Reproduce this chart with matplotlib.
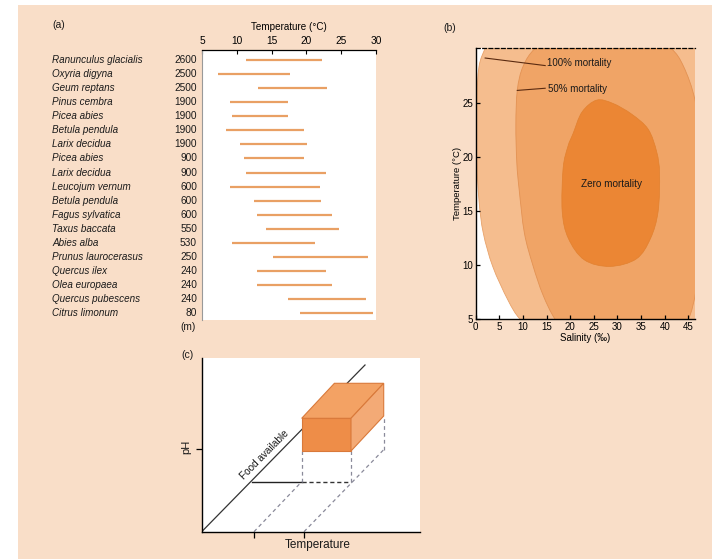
import numpy as np
import matplotlib
matplotlib.use("Agg")
import matplotlib.pyplot as plt
import matplotlib.transforms as mtransforms
from matplotlib.path import Path
from matplotlib.patches import PathPatch, Polygon, Rectangle

plt.rcParams['font.family'] = ['Liberation Sans', 'DejaVu Sans']

# ---------------- data: panel (a) ----------------
species = ["Ranunculus glacialis", "Oxyria digyna", "Geum reptans", "Pinus cembra",
           "Picea abies", "Betula pendula", "Larix decidua", "Picea abies",
           "Larix decidua", "Leucojum vernum", "Betula pendula", "Fagus sylvatica",
           "Taxus baccata", "Abies alba", "Prunus laurocerasus", "Quercus ilex",
           "Olea europaea", "Quercus pubescens", "Citrus limonum"]
altitude = [2600, 2500, 2500, 1900, 1900, 1900, 1900, 900, 900, 600,
            600, 600, 550, 530, 250, 240, 240, 240, 80]
t_low = [11.3, 7.3, 13.1, 9.0, 9.3, 8.5, 10.4, 11.0, 11.3, 9.0,
         12.4, 12.9, 14.2, 9.3, 15.2, 12.9, 12.9, 17.3, 19.1]
t_high = [22.2, 17.7, 23.0, 17.4, 17.4, 19.7, 20.1, 19.7, 22.8, 21.9,
          22.1, 23.7, 24.7, 21.2, 28.8, 22.8, 23.7, 28.6, 29.6]
temp_ticks = [5, 10, 15, 20, 25, 30]

# ---------------- data: panel (b) ----------------
sal_ticks = [0, 5, 10, 15, 20, 25, 30, 35, 40, 45]
tb_ticks = [5, 10, 15, 20, 25]
# boundary of the 100% mortality region (salinity, temperature)
b100_sal = [3.0, 2.0, 0.7, 0.2, 0.2, 0.7, 1.6, 3.6, 6.8, 9.4, 14.0, 60, 60, 20]
b100_tmp = [31.0, 30.1, 28.4, 25.0, 20.0, 16.0, 13.0, 9.9, 6.8, 5.0, 3.2, 2.0, 33.0, 33.0]
# boundary of the 50% mortality region
b50_sal = [12.6, 10.0, 8.8, 8.5, 8.7, 9.2, 10.3, 12.1, 14.2, 16.8, 20.5,
           42.0, 45.0, 46.6, 47.6, 47.6, 46.4, 44.0, 41.3, 36.0, 18.0]
b50_tmp = [30.1, 28.4, 26.2, 23.0, 19.5, 17.0, 13.0, 10.0, 7.3, 5.0, 3.0,
           3.3, 5.0, 7.7, 12.0, 21.0, 25.3, 28.4, 30.1, 31.5, 31.7]
# boundary of the zero mortality region
b0_sal = [25.6, 29.0, 33.0, 36.5, 38.3, 38.9, 38.6, 37.0, 34.0, 28.4,
          23.0, 19.6, 18.3, 18.5, 19.5, 20.6, 22.5]
b0_tmp = [25.3, 25.0, 24.0, 22.6, 20.5, 18.5, 15.0, 12.5, 10.6, 9.9,
          10.5, 12.5, 15.0, 19.0, 21.0, 22.2, 24.2]

# ---------------- data: panel (c) (schematic units) ----------------
food_line = ([1.0, 163.3], [1.0, 166.7])
box_front = (100.0, 80.7, 49.3, 32.7)    # x, y, width, height
box_depth = (32.7, 35.0)
floor_y = 50.0
food_x_at_floor = 50.0
c_xticks = [52.3, 102.3]
c_ytick = [82.4]

BG = '#f9dec8'
W, H = 712, 559


def px_axes(fig, x0, y0, x1, y1):
    return fig.add_axes([x0 / W, 1 - y1 / H, (x1 - x0) / W, (y1 - y0) / H])


def smooth_closed(xs, ys):
    # closed Catmull-Rom curve through the boundary points, as cubic Beziers
    pts = np.column_stack([xs, ys]).astype(float)
    n = len(pts)
    verts = [pts[0]]
    codes = [Path.MOVETO]
    for i in range(n):
        p0, p1, p2, p3 = pts[i - 1], pts[i], pts[(i + 1) % n], pts[(i + 2) % n]
        verts += [p1 + (p2 - p0) / 6, p2 - (p3 - p1) / 6, p2]
        codes += [Path.CURVE4] * 3
    verts.append(pts[0])
    codes.append(Path.CLOSEPOLY)
    return Path(verts, codes)


fig = plt.figure(figsize=(W / 100, H / 100), dpi=100)
fig.patch.set_facecolor('white')
fig.patches.append(Rectangle((18 / W, 0), 1, 1 - 5 / H, transform=fig.transFigure,
                             facecolor=BG, edgecolor='none', zorder=-10))

txt = dict(color='#1a1a1a')

# ================= panel (a) =================
axa = px_axes(fig, 202, 50, 376, 320)
rows = np.arange(len(species))
axa.hlines(rows, t_low, t_high, color='#e9a064', lw=1.6)
axa.set_xlim(5, 30)
axa.set_ylim(18.48, -0.71)
axa.xaxis.tick_top()
axa.set_xticks(temp_ticks)
axa.tick_params(axis='x', direction='in', length=3, width=0.8, labelsize=7.3, pad=3)
axa.set_yticks([])
for s in ['right', 'bottom']:
    axa.spines[s].set_visible(False)
axa.spines['left'].set_color('#999999')
axa.spines['top'].set_linewidth(0.9)
axa.set_xlabel('Temperature (°C)', fontsize=7.1, labelpad=4)
axa.xaxis.set_label_position('top')

trans_a = mtransforms.blended_transform_factory(fig.transFigure, axa.transData)
for i, (name, alt) in enumerate(zip(species, altitude)):
    axa.text(52 / W, i, name, transform=trans_a, fontsize=7.1, style='italic',
             ha='left', va='center', **txt)
    axa.text(197 / W, i, str(alt), transform=trans_a, fontsize=7.3,
             ha='right', va='center', **txt)
fig.text(196 / W, 1 - 327 / H, '(m)', fontsize=7.3, ha='right', va='center', **txt)
fig.text(52 / W, 1 - 25 / H, '(a)', fontsize=7.5, ha='left', va='center', **txt)

# ================= panel (b) =================
axb = px_axes(fig, 475.7, 48.3, 695, 319.3)
axb.set_facecolor('white')
axb.set_xlim(0, 46.4)
axb.set_ylim(5, 30.1)
p100 = PathPatch(smooth_closed(b100_sal, b100_tmp), facecolor='#f5bd8e',
                 edgecolor='#e8a26a', lw=0.6)
axb.add_patch(p100)
p50 = PathPatch(smooth_closed(b50_sal, b50_tmp), facecolor='#f0a466',
                edgecolor='#e39253', lw=0.6)
axb.add_patch(p50)
p0 = PathPatch(smooth_closed(b0_sal, b0_tmp), facecolor='#eb8634',
               edgecolor='#e2812f', lw=0.5)
axb.add_patch(p0)

axb.plot([2.0, 14.7], [29.2, 28.5], color='#5a2a10', lw=0.8)
axb.plot([8.8, 14.7], [26.2, 26.4], color='#5a2a10', lw=0.8)
axb.text(15.0, 28.7, '100% mortality', fontsize=7.0, ha='left', va='center', **txt)
axb.text(15.2, 26.35, '50% mortality', fontsize=7.0, ha='left', va='center', **txt)
axb.text(28.8, 17.5, 'Zero mortality', fontsize=7.2, ha='center', va='center', **txt)

axb.set_xticks(sal_ticks)
axb.set_yticks(tb_ticks)
axb.tick_params(direction='in', length=3, width=0.9, labelsize=7.0, pad=2)
axb.spines['right'].set_visible(False)
axb.spines['top'].set_linestyle((0, (3, 2)))
axb.spines['top'].set_linewidth(0.9)
axb.spines['left'].set_linewidth(1.0)
axb.spines['bottom'].set_linewidth(1.0)
axb.set_xlabel('Salinity (‰)', fontsize=7.0, labelpad=1)
axb.set_ylabel('Temperature (°C)', fontsize=6.8, labelpad=0)
fig.text(443 / W, 1 - 28 / H, '(b)', fontsize=7.5, ha='left', va='center', **txt)

# ================= panel (c) =================
axc = px_axes(fig, 201.7, 358.3, 420, 531.7)
axc.set_facecolor('white')
axc.set_xlim(0, 218.3)
axc.set_ylim(0, 173.4)
for s in ['right', 'top']:
    axc.spines[s].set_visible(False)
axc.spines['left'].set_linewidth(1.0)
axc.spines['bottom'].set_linewidth(1.0)
axc.set_xticks(c_xticks)
axc.set_yticks(c_ytick)
axc.set_xticklabels([])
axc.set_yticklabels([])
axc.tick_params(direction='out', length=4, width=0.9)

dash = dict(color='#8a8a9a', lw=0.9, ls=(0, (3, 2.5)))
axc.plot(*food_line, color='#333333', lw=0.9, zorder=2)

bx, by, bw, bh = box_front
dx, dy = box_depth
axc.plot([food_x_at_floor, bx], [floor_y, floor_y], color='#222222', lw=1.0)
axc.plot([bx, bx + bw], [floor_y, floor_y], color='#333333', lw=1.0, ls=(0, (3, 2)))
axc.plot([c_xticks[0], bx], [0, floor_y], **dash)
axc.plot([c_xticks[1], bx + bw + dx], [0, floor_y + dy - 3], **dash)
axc.plot([bx, bx], [floor_y, by], **dash)
axc.plot([bx + bw, bx + bw], [floor_y, by], **dash)
axc.plot([bx + bw + dx, bx + bw + dx], [floor_y + dy - 3, by + dy], **dash)

front = Polygon([(bx, by), (bx + bw, by), (bx + bw, by + bh), (bx, by + bh)],
                facecolor='#ee8d48', edgecolor='#d9793a', lw=0.8, zorder=4)
top = Polygon([(bx, by + bh), (bx + bw, by + bh), (bx + bw + dx, by + bh + dy),
               (bx + dx, by + bh + dy)],
              facecolor='#f3a264', edgecolor='#d9793a', lw=0.8, zorder=4)
side = Polygon([(bx + bw, by), (bx + bw + dx, by + dy), (bx + bw + dx, by + bh + dy),
                (bx + bw, by + bh)],
               facecolor='#f3aa76', edgecolor='#d9793a', lw=0.8, zorder=4)
for p in (front, top, side):
    axc.add_patch(p)

axc.text(63.2, 77.2, 'Food available', fontsize=7.2, rotation=45.5,
         ha='center', va='center', rotation_mode='anchor', **txt)
fig.text(318 / W, 1 - 545 / H, 'Temperature', fontsize=8.5, ha='center', va='center', **txt)
fig.text(186 / W, 1 - 447 / H, 'pH', fontsize=8.0, rotation=90, ha='center', va='center', **txt)
fig.text(187 / W, 1 - 355 / H, '(c)', fontsize=7.5, ha='center', va='center', **txt)

fig.savefig('out.png', dpi=100, facecolor=fig.get_facecolor())
